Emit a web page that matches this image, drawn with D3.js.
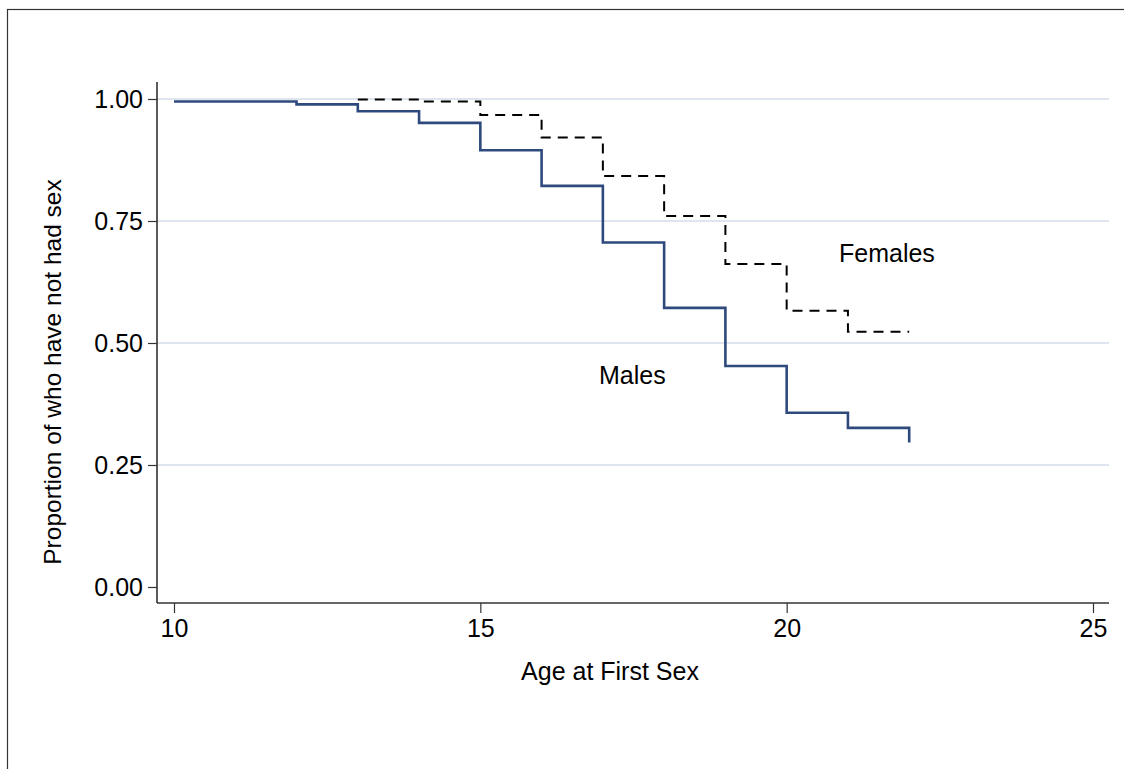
<!DOCTYPE html>
<html>
<head>
<meta charset="utf-8">
<script src="https://cdn.jsdelivr.net/npm/d3@7"></script>
<style>
  body { margin: 0; background: #fff; }
  svg text { font-family: "Liberation Sans", Arial, sans-serif; fill: #000; }
</style>
</head>
<body>
<div id="chart"></div>
<script>
// Kaplan-Meier style survival: proportion who have not had sex, by age
const maleAges = [10, 12, 13, 14, 15, 16, 17, 18, 19, 20, 21, 22];
const maleValues = [0.995, 0.989, 0.975, 0.951, 0.895, 0.822, 0.706, 0.572, 0.453, 0.357, 0.326, 0.296];

const femaleAges = [13, 14, 15, 16, 17, 18, 19, 20, 21, 22];
const femaleValues = [0.999, 0.995, 0.967, 0.921, 0.842, 0.760, 0.662, 0.566, 0.523, 0.523];

const xTicks = [10, 15, 20, 25];
const yTicks = [0, 0.25, 0.5, 0.75, 1];
const gridTicks = [0.25, 0.5, 0.75, 1];

const width = 1124, height = 769;

const svg = d3.select("#chart").append("svg")
    .attr("width", width)
    .attr("height", height);

// outer frame (right and bottom edges fall outside the picture)
svg.append("rect")
    .attr("x", 7.5).attr("y", 9.5)
    .attr("width", 1200).attr("height", 900)
    .attr("fill", "none")
    .attr("stroke", "#333")
    .attr("stroke-width", 1.2);

const x = d3.scaleLinear().domain([10, 25]).range([174, 1093]);
const y = d3.scaleLinear().domain([0, 1]).range([587, 99]);

const axisX0 = 157, axisX1 = 1109, axisY = 603;

// grid lines
svg.append("g").selectAll("line").data(gridTicks).enter().append("line")
    .attr("x1", axisX0).attr("x2", axisX1)
    .attr("y1", d => y(d)).attr("y2", d => y(d))
    .attr("stroke", "#dfe5ef")
    .attr("stroke-width", 2);

// y axis
const yAxis = svg.append("g")
    .attr("transform", `translate(${axisX0},0)`)
    .call(d3.axisLeft(y).tickValues(yTicks).tickFormat(d3.format(".2f")).tickSize(9).tickPadding(5).tickSizeOuter(0));
yAxis.select(".domain").remove();
yAxis.selectAll("line").attr("stroke", "#333").attr("stroke-width", 1.2);
yAxis.selectAll("text").style("font-size", "25px").style("font-family", "Liberation Sans, Arial, sans-serif").attr("fill", "#000");
svg.append("line")
    .attr("x1", axisX0).attr("x2", axisX0)
    .attr("y1", 82).attr("y2", axisY)
    .attr("stroke", "#333").attr("stroke-width", 1.6);

// x axis
const xAxis = svg.append("g")
    .attr("transform", `translate(0,${axisY})`)
    .call(d3.axisBottom(x).tickValues(xTicks).tickSize(10).tickPadding(6).tickSizeOuter(0));
xAxis.select(".domain").remove();
xAxis.selectAll("line").attr("stroke", "#333").attr("stroke-width", 1.2);
xAxis.selectAll("text").style("font-size", "25px").style("font-family", "Liberation Sans, Arial, sans-serif").attr("fill", "#000");
svg.append("line")
    .attr("x1", axisX0).attr("x2", axisX1)
    .attr("y1", axisY).attr("y2", axisY)
    .attr("stroke", "#333").attr("stroke-width", 1.6);

// axis titles
svg.append("text")
    .attr("x", 610).attr("y", 680)
    .attr("text-anchor", "middle")
    .style("font-size", "25px")
    .text("Age at First Sex");

svg.append("text")
    .attr("transform", "translate(61,372) rotate(-90)")
    .attr("text-anchor", "middle")
    .style("font-size", "24.5px")
    .text("Proportion of who have not had sex");

// survival step lines
const line = d3.line()
    .x(d => x(d[0]))
    .y(d => y(d[1]))
    .curve(d3.curveStepAfter);

svg.append("path")
    .datum(d3.zip(femaleAges, femaleValues))
    .attr("d", line)
    .attr("fill", "none")
    .attr("stroke", "#000")
    .attr("stroke-width", 2)
    .attr("stroke-dasharray", "10,7");

svg.append("path")
    .datum(d3.zip(maleAges, maleValues))
    .attr("d", line)
    .attr("fill", "none")
    .attr("stroke", "#2e4a7d")
    .attr("stroke-width", 2.6);

// labels
svg.append("text")
    .attr("x", 839).attr("y", 262)
    .style("font-size", "25px")
    .text("Females");

svg.append("text")
    .attr("x", 599).attr("y", 384)
    .style("font-size", "25px")
    .text("Males");
</script>
</body>
</html>
